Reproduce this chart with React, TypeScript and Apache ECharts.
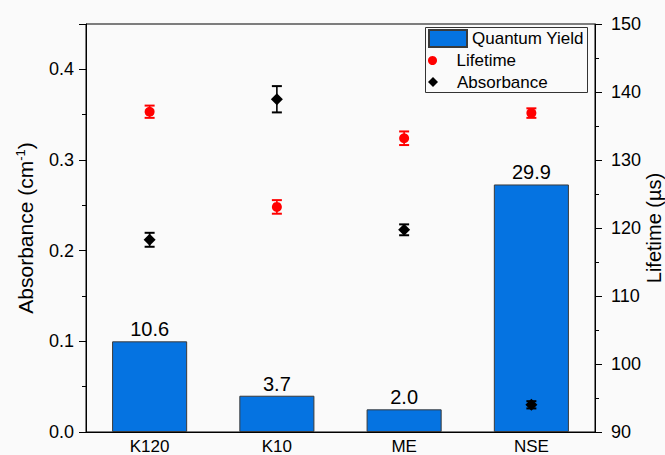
import React, { useEffect, useRef } from "react";
import * as echarts from "echarts";

const categories = ["K120", "K10", "ME", "NSE"];
const quantumYield = [10.6, 3.7, 2.0, 29.9];
// bar heights as drawn, in absorbance-axis units
const barHeights = [0.1, 0.04, 0.025, 0.273];
const lifetime = [137.1, 123.1, 133.2, 136.9];
const lifetimeErr = [0.9, 1.0, 1.0, 0.7];
const absorbance = [0.212, 0.367, 0.223, 0.03];
const absorbanceErr = [0.0077, 0.0145, 0.006, 0.004];

const FONT = "'Liberation Sans', Arial, sans-serif";

function errorSeries(name: string, values: number[], errs: number[], color: string, yAxisIndex: number) {
  return {
    type: "custom",
    name,
    yAxisIndex,
    z: 4,
    silent: true,
    data: values.map((v, i) => [i, v - errs[i], v + errs[i]]),
    encode: { x: 0, y: [1, 2] },
    renderItem: (params: any, api: any) => {
      const idx = api.value(0);
      const lo = api.coord([idx, api.value(1)]);
      const hi = api.coord([idx, api.value(2)]);
      const w = 5;
      const stem = { stroke: color, lineWidth: 1.6, fill: "none" };
      const cap = { stroke: color, lineWidth: 2, fill: "none" };
      return {
        type: "group",
        children: [
          { type: "line", shape: { x1: lo[0], y1: lo[1], x2: hi[0], y2: hi[1] }, style: stem },
          { type: "line", shape: { x1: lo[0] - w, y1: lo[1], x2: lo[0] + w, y2: lo[1] }, style: cap },
          { type: "line", shape: { x1: hi[0] - w, y1: hi[1], x2: hi[0] + w, y2: hi[1] }, style: cap },
        ],
      };
    },
  };
}

export default function App() {
  const ref = useRef<HTMLDivElement>(null);
  useEffect(() => {
    if (!ref.current) return;
    const chart = echarts.init(ref.current, undefined, { renderer: "svg" });
    const axisText = { color: "#000", fontFamily: FONT };
    chart.setOption({
      animation: false,
      backgroundColor: "#fafafa",
      textStyle: { fontFamily: FONT },
      grid: {
        left: 86, right: 70, top: 24, bottom: 23,
        outerBoundsMode: "none", containLabel: false,
        show: true, borderColor: "#000", borderWidth: 1, backgroundColor: "transparent",
      },
      legend: [
        {
          data: [{ name: "Quantum Yield", icon: "rect" }], left: 428, top: 29, padding: 0, orient: "vertical",
          itemWidth: 38, itemHeight: 17, itemGap: 0,
          textStyle: { ...axisText, fontSize: 17 },
        },
        {
          data: [{ name: "Lifetime", icon: "circle" }], left: 428, top: 52, padding: 0, orient: "vertical",
          itemWidth: 38, itemHeight: 9, itemGap: 0,
          textStyle: { ...axisText, fontSize: 17 },
        },
        {
          data: [{ name: "Absorbance", icon: "path://M5 0L10 5L5 10L0 5Z" }], left: 428, top: 73.5, padding: 0, orient: "vertical",
          itemWidth: 38, itemHeight: 10, itemGap: 0,
          textStyle: { ...axisText, fontSize: 17 },
        },
      ],
      graphic: [
        {
          type: "rect",
          shape: { x: 425.5, y: 27.5, width: 162, height: 65 },
          style: { fill: "none", stroke: "#333", lineWidth: 1 },
          z: 10,
        },
      ],
      xAxis: {
        type: "category",
        data: categories,
        axisLine: { lineStyle: { color: "#000", width: 1 } },
        axisTick: { show: false },
        axisLabel: { ...axisText, fontSize: 17, margin: 6 },
      },
      yAxis: [
        {
          type: "value",
          min: 0,
          max: 0.45,
          interval: 0.1,
          position: "left",
          name: "Absorbance (cm{sup|-1})",
          nameLocation: "middle",
          nameGap: 49,
          nameRotate: 90,
          nameMoveOverlap: false,
          nameTextStyle: {
            ...axisText,
            fontSize: 21,
            rich: { sup: { fontSize: 13, verticalAlign: "top", color: "#000", fontFamily: FONT, padding: [0, 0, 10, 0] } },
          },
          axisLine: { show: true, lineStyle: { color: "#000", width: 1 } },
          axisTick: { show: true, length: 7, lineStyle: { color: "#000" } },
          minorTick: { show: true, splitNumber: 2, length: 4, lineStyle: { color: "#000" } },
          splitLine: { show: false },
          axisLabel: {
            ...axisText, fontSize: 18, margin: 12, showMaxLabel: false,
            formatter: (v: number) => (Math.abs(v - 0.45) < 1e-9 ? "" : v.toFixed(1)),
          },
        },
        {
          type: "value",
          min: 90,
          max: 150,
          interval: 10,
          position: "right",
          name: "Lifetime (µs)",
          nameLocation: "middle",
          nameGap: 49,
          nameRotate: 90,
          nameMoveOverlap: false,
          nameTextStyle: { ...axisText, fontSize: 20 },
          axisLine: { show: true, lineStyle: { color: "#000", width: 1 } },
          axisTick: { show: true, length: 7, lineStyle: { color: "#000" } },
          minorTick: { show: true, splitNumber: 2, length: 4, lineStyle: { color: "#000" } },
          splitLine: { show: false },
          axisLabel: { ...axisText, fontSize: 18, margin: 16 },
        },
      ],
      series: [
        {
          type: "bar",
          name: "Quantum Yield",
          yAxisIndex: 0,
          data: barHeights,
          barWidth: "59%",
          itemStyle: { color: "#0573e1", borderColor: "#3a3a3a", borderWidth: 1 },
          label: {
            show: true,
            position: "top",
            distance: 2,
            color: "#000",
            fontSize: 20,
            fontFamily: FONT,
            formatter: (p: any) => quantumYield[p.dataIndex].toFixed(1),
          },
          z: 2,
        },
        errorSeries("Lifetime error", lifetime, lifetimeErr, "#ff0000", 1),
        errorSeries("Absorbance error", absorbance, absorbanceErr, "#000000", 0),
        {
          type: "scatter",
          name: "Lifetime",
          yAxisIndex: 1,
          data: lifetime,
          symbol: "circle",
          symbolSize: 10,
          itemStyle: { color: "#ff0000", opacity: 1 },
          z: 5,
        },
        {
          type: "scatter",
          name: "Absorbance",
          yAxisIndex: 0,
          data: absorbance,
          symbol: "diamond",
          symbolSize: 12,
          itemStyle: { color: "#000000", opacity: 1 },
          z: 5,
        },
      ],
    });
    return () => chart.dispose();
  }, []);
  return (
    <div
      ref={ref}
      style={{ position: "absolute", left: 0, top: 0, width: 665, height: 455 }}
    />
  );
}
